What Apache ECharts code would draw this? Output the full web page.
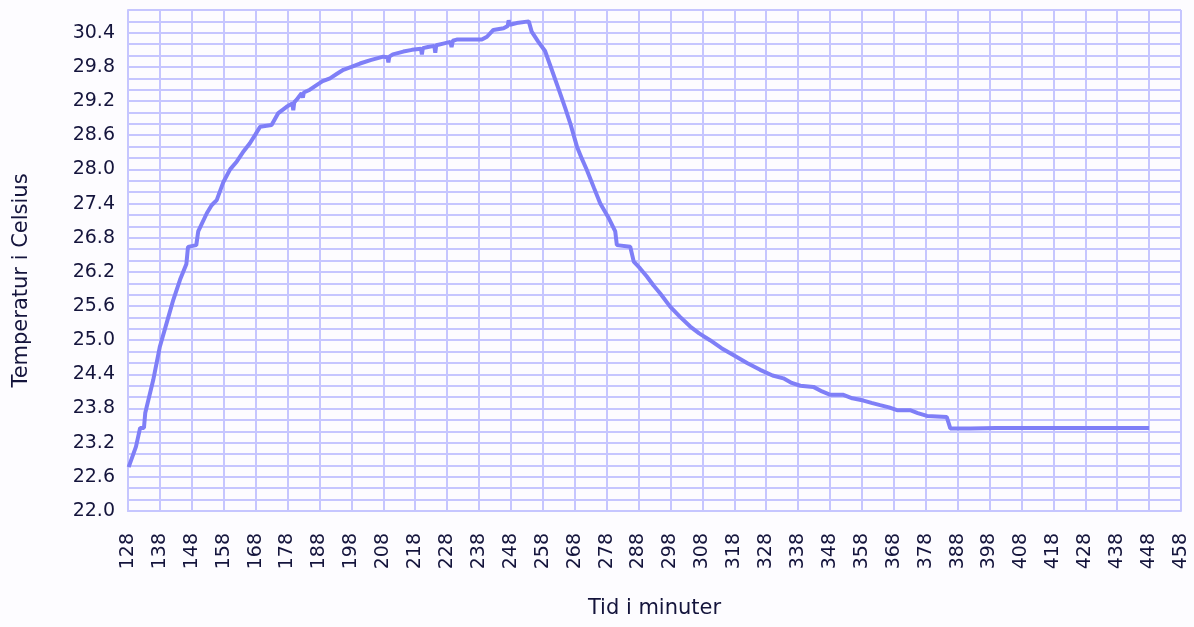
<!DOCTYPE html>
<html>
<head>
<meta charset="utf-8">
<title>Temperatur</title>
<script src="https://cdn.jsdelivr.net/npm/echarts@6/dist/echarts.min.js"></script>
<style>
  html, body { margin: 0; padding: 0; background: #fdfcff; }
  #chart { width: 1194px; height: 627px; }
</style>
</head>
<body>
<div id="chart"></div>
<script>
// Time in minutes and measured temperature (°C)
const minutes = [
  128.2, 130.5, 131.8, 133.0, 133.4, 135.9, 138.0, 140.1, 142.2, 144.3,
  146.3, 146.8, 149.4, 150.0, 152.7, 154.2, 155.8, 157.9, 160.0, 162.1,
  164.0, 166.2, 168.0, 169.4, 173.0, 175.1, 177.7, 179.5, 179.8, 180.1,
  180.8, 182.4, 182.8, 183.1, 185.0, 187.1, 189.0, 191.3, 193.5, 195.5,
  198.0, 200.7, 204.0, 208.0, 209.3, 209.6, 209.9, 211.0, 214.3, 217.0,
  219.8, 220.1, 220.4, 222.0, 224.0, 224.3, 224.6, 226.8, 229.0, 229.4,
  229.8, 231.0, 238.9, 240.5, 242.5, 245.7, 247.0, 247.3, 247.7, 249.8,
  253.6, 254.5, 256.5, 258.7, 260.3, 263.4, 265.0, 266.6, 268.7, 270.3,
  271.8, 274.0, 276.0, 278.5, 280.7, 281.2, 285.4, 286.5, 288.5, 290.6,
  292.7, 294.8, 297.9, 301.0, 304.2, 307.0, 310.4, 314.0, 317.7, 322.0,
  326.1, 330.0, 333.4, 336.0, 338.7, 342.8, 345.5, 348.1, 352.2, 355.0,
  358.5, 361.0, 363.7, 366.5, 369.0, 373.1, 375.5, 378.4, 384.6, 385.7,
  392.0, 400.0, 410.0, 420.0, 430.0, 440.0, 448.0
];
const celsius = [
  22.77, 23.13, 23.46, 23.46, 23.72, 24.30, 24.89, 25.30, 25.71, 26.06,
  26.34, 26.64, 26.67, 26.91, 27.23, 27.37, 27.46, 27.78, 28.00, 28.14,
  28.30, 28.46, 28.62, 28.75, 28.78, 28.99, 29.10, 29.16, 29.04, 29.18,
  29.22, 29.34, 29.26, 29.35, 29.40, 29.48, 29.55, 29.60, 29.68, 29.75,
  29.80, 29.86, 29.92, 29.98, 29.97, 29.88, 29.98, 30.02, 30.07, 30.10,
  30.12, 30.02, 30.13, 30.15, 30.17, 30.05, 30.18, 30.21, 30.24, 30.15,
  30.26, 30.28, 30.28, 30.33, 30.45, 30.48, 30.52, 30.62, 30.54, 30.57,
  30.60, 30.42, 30.25, 30.08, 29.83, 29.34, 29.08, 28.81, 28.40, 28.18,
  27.99, 27.68, 27.40, 27.16, 26.91, 26.67, 26.64, 26.38, 26.26, 26.12,
  25.96, 25.82, 25.59, 25.41, 25.24, 25.12, 25.00, 24.86, 24.74, 24.60,
  24.48, 24.38, 24.33, 24.25, 24.20, 24.18, 24.10, 24.04, 24.04, 23.98,
  23.94, 23.90, 23.86, 23.82, 23.77, 23.77, 23.72, 23.67, 23.65, 23.45,
  23.45, 23.46, 23.46, 23.46, 23.46, 23.46, 23.46
];
// Labelled temperature ticks (grid lines every 0.2 between them)
const yTickLabels = [
  '22.0', '22.6', '23.2', '23.8', '24.4', '25.0', '25.6', '26.2',
  '26.8', '27.4', '28.0', '28.6', '29.2', '29.8', '30.4'
];

const gridColor = '#c6c6ff';
const textColor = '#14143c';
const fontFamily = 'DejaVu Sans';

const chart = echarts.init(document.getElementById('chart'), null, { renderer: 'canvas' });

chart.setOption({
  backgroundColor: '#fdfcff',
  animation: false,
  grid: { left: 128, right: 13, top: 10, bottom: 116, containLabel: false },
  xAxis: {
    type: 'value',
    min: 128,
    max: 458,
    interval: 10,
    name: 'Tid i minuter',
    nameLocation: 'middle',
    nameGap: 87,
    nameTextStyle: { color: textColor, fontSize: 21, fontFamily: fontFamily },
    axisLine: { show: true, lineStyle: { color: gridColor, width: 2 } },
    axisTick: { show: false },
    axisLabel: {
      rotate: 90,
      margin: 22,
      color: textColor,
      fontSize: 19,
      fontFamily: fontFamily,
      formatter: v => String(Math.round(v))
    },
    splitLine: { show: true, lineStyle: { color: gridColor, width: 2 } }
  },
  yAxis: {
    type: 'value',
    min: 22,
    max: 30.8,
    interval: 0.2,
    name: 'Temperatur i Celsius',
    nameLocation: 'middle',
    nameGap: 96,
    nameTextStyle: { color: textColor, fontSize: 21, fontFamily: fontFamily, padding: [0, 40, 0, 0] },
    axisLine: { show: true, lineStyle: { color: gridColor, width: 2 } },
    axisTick: { show: false },
    axisLabel: {
      margin: 13,
      color: textColor,
      fontSize: 19,
      fontFamily: fontFamily,
      formatter: v => {
        const s = v.toFixed(1);
        return yTickLabels.indexOf(s) >= 0 ? s : '';
      }
    },
    splitLine: { show: true, lineStyle: { color: gridColor, width: 2 } }
  },
  series: [{
    type: 'line',
    data: minutes.map((m, i) => [m, celsius[i]]),
    showSymbol: false,
    smooth: false,
    lineStyle: { color: '#7f7ff7', width: 4 },
    itemStyle: { color: '#7f7ff7' }
  }]
});
</script>
</body>
</html>
